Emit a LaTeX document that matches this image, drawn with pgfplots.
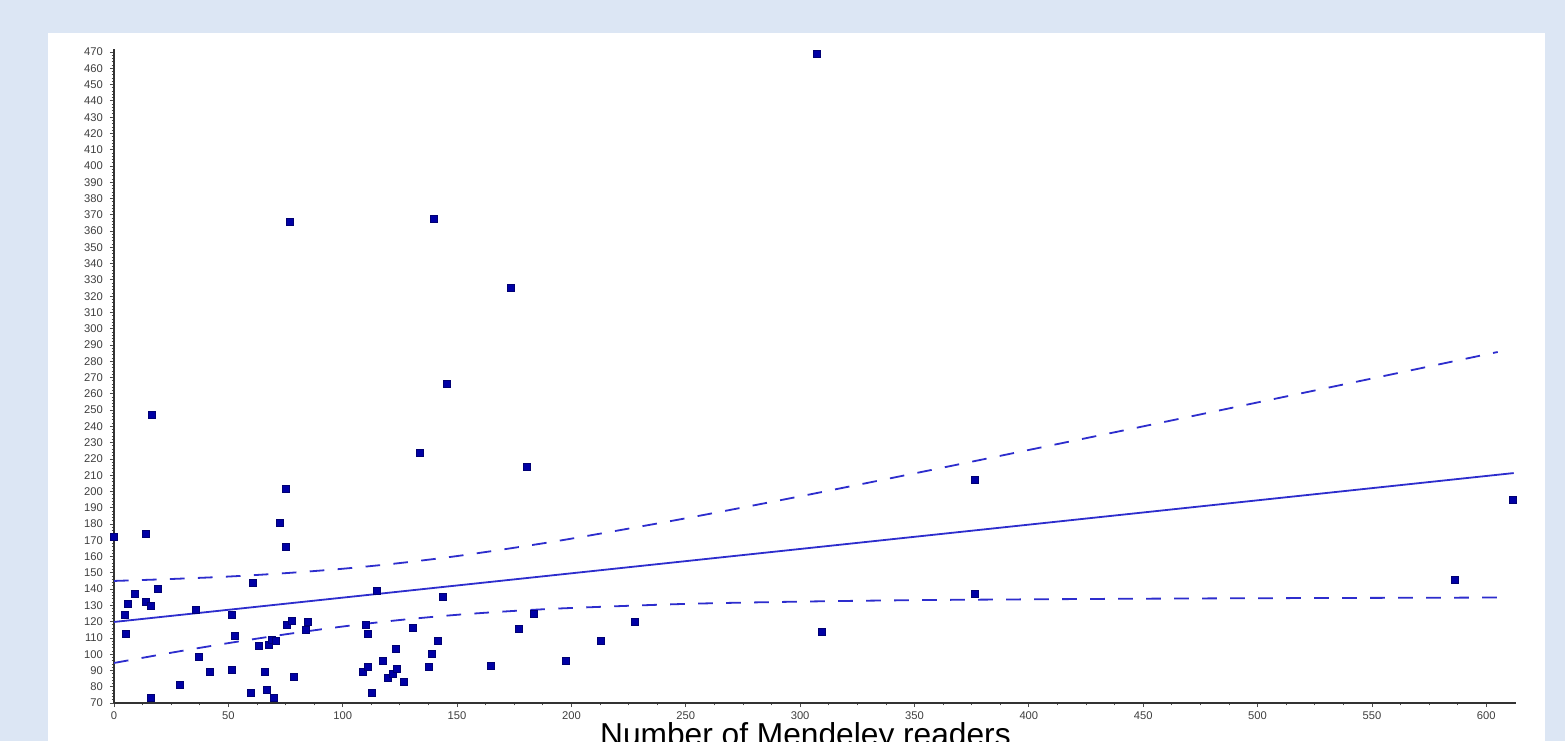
\documentclass[border=0pt]{standalone}
\usepackage{pgfplots}
\pgfplotsset{compat=1.18}
\usepackage{fontspec}
\setmainfont{Liberation Sans}
\definecolor{bgblue}{RGB}{220,230,244}
\definecolor{mk}{RGB}{0,0,165}
\definecolor{ln}{RGB}{45,45,205}

\begin{document}
\begin{tikzpicture}
\useasboundingbox (-57pt,-19pt) rectangle (725.5pt,351.5pt);
\clip (-57pt,-19pt) rectangle (725.5pt,351.5pt);
\fill[bgblue] (-57pt,-19pt) rectangle (725.5pt,351.5pt);
\fill[white] (-33pt,-25pt) rectangle (715.5pt,335pt);
\begin{axis}[
  at={(0pt,0pt)}, anchor=south west,
  scale only axis, width=701pt, height=327.1pt,
  xmin=0, xmax=613, ymin=70, ymax=472,
  axis lines=left,
  axis line style={-, line width=1pt, black!80},
  xtick={0,50,...,600}, ytick={70,80,...,470},
  minor x tick num=3, minor y tick num=4,
  tick align=outside,
  major tick length=2pt, minor tick length=1.2pt,
  tick style={black!70, line width=0.4pt},
  tick label style={text=black!75, font=\fontsize{5.6}{6}\selectfont},
  xticklabel style={yshift=1.2pt},
  /pgf/number format/assume math mode=true,
  xlabel={Number of Mendeley readers},
  xlabel style={at={(rel axis cs:0.4932,0)}, anchor=base, yshift=-21pt,
    font=\fontsize{15.85}{16}\selectfont, text=black, inner sep=0pt},
  clip=false,
]
\addplot[ln, line width=0.9pt] coordinates {(0,119.8) (612,211.3)};
\addplot[ln, line width=0.9pt, dash pattern=on 7.3pt off 6.7pt, smooth] coordinates {
(0,145.0) (25,146.2) (50,147.7) (75,149.8) (100,152.5) (125,156.0) (150,160.3)
(175,165.4) (200,171.0) (250,183.5) (300,197.0) (350,211.1) (400,225.5)
(450,240.0) (500,254.7) (550,269.4) (605,285.7)};
\addplot[ln, line width=0.9pt, dash pattern=on 7.3pt off 6.7pt, smooth] coordinates {
(0,94.6) (25,100.9) (50,106.8) (75,112.2) (100,117.0) (125,121.0) (150,124.2)
(175,126.6) (200,128.4) (250,130.9) (300,132.3) (350,133.2) (400,133.7)
(450,134.1) (500,134.4) (550,134.6) (605,134.8)};
\addplot[only marks, mark=square*, mark size=1.75pt,
  mark options={fill=mk, draw=mk!70!black, line width=0.3pt}] table {
x y
0 172
4.8 123.9
5.0 112.8
6.0 130.8
9.2 137.2
14.0 131.9
14.0 173.7
15.9 129.8
15.9 73.5
16.7 247.4
19.0 139.9
28.9 81.1
35.7 127.1
37.0 98.1
42.0 89.0
51.7 123.9
52.8 111.2
51.7 90.3
59.8 76.3
60.9 143.9
63.1 105.0
65.9 89.0
66.9 78.0
67.9 105.8
68.8 108.7
70.7 108.1
69.7 73.5
72.7 181.0
75.0 201.5
75.1 165.7
75.5 117.9
76.7 365.7
77.8 120.6
78.8 86.0
83.8 114.9
84.8 120.2
108.7 89.0
109.9 117.9
110.9 92.1
110.9 112.8
112.7 76.3
114.9 138.8
117.6 96.0
119.7 85.6
121.7 88.0
123.0 103.4
123.6 91.1
126.8 82.9
130.6 116.1
133.8 223.8
137.6 92.1
138.9 100.1
139.9 367.8
141.5 108.1
143.6 135.0
145.7 266.4
164.8 93.1
173.6 325.2
176.9 115.9
180.6 215.2
183.5 125.1
197.6 96.0
212.8 108.1
227.6 120.2
307.5 469.2
309.3 113.8
376.2 207.4
376.2 137.2
586.4 146.0
611.4 194.7
};
\end{axis}
\end{tikzpicture}
\end{document}
